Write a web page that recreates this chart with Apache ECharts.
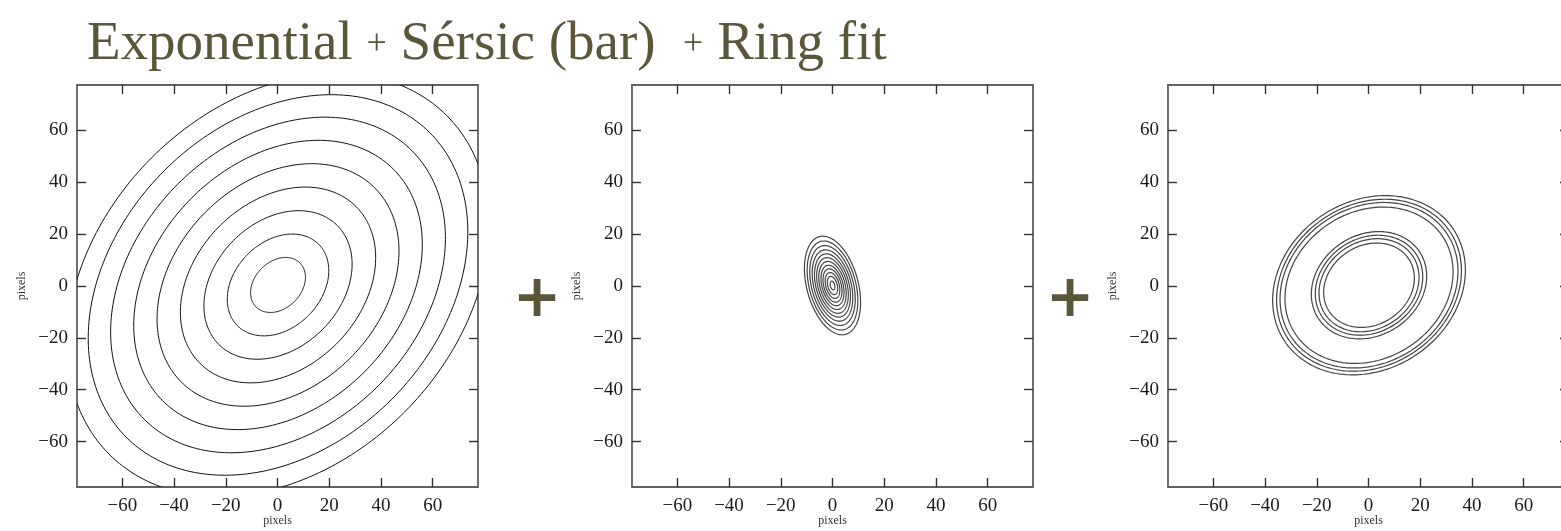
<!DOCTYPE html>
<html>
<head>
<meta charset="utf-8">
<title>Exponential + Sérsic (bar) + Ring fit</title>
<script src="https://cdn.jsdelivr.net/npm/echarts@6/dist/echarts.min.js"></script>
<style>
  html, body { margin: 0; padding: 0; background: #ffffff; }
  #chart { width: 1561px; height: 531px; }
</style>
</head>
<body>
<div id="chart"></div>
<script>
// Axis ticks shared by all three panels (pixels from the galaxy centre)
const tickValues = [-60, -40, -20, 0, 20, 40, 60];
const axisMin = -77.5;
const axisMax = 77.5;

// Exponential disk isophotes: semi-major axes, centre, axis ratio, position angle (deg from +x)
const diskSemiMajor = [12.0, 22.2, 32.4, 42.7, 52.9, 63.1, 73.2, 83.0, 92.3];
const diskCentre = [0.2, 0.4];
const diskAxisRatio = 0.75;
const diskAngle = 45;

// Sérsic bar isophotes
const barSemiMajor = [19.5, 17.6, 15.8, 14.1, 12.5, 11.0, 9.5, 8.0, 6.6, 5.1, 3.6, 1.7];
const barCentre = [0.0, 0.2];
const barAxisRatio = 0.51;
const barAngle = 105;

// Ring isophotes (outer and inner edge groups)
const ringSemiMajor = [39.1, 37.5, 36.1, 34.1, 23.4, 21.8, 20.3, 18.4];
const ringCentre = [0.2, 0.3];
const ringAxisRatio = 0.83;
const ringAngle = 33;

const titleColor = '#59563a';
const serif = '"Liberation Serif", "DejaVu Serif", serif';

function isophotes(semiMajor, centre, q, angle) {
  return semiMajor.map(a => [centre[0], centre[1], a, q, angle]);
}

// Outline of one elliptical isophote, mapped through the panel's axes
function ellipseRenderer(stroke, width) {
  return function (params, api) {
    const cx = api.value(0), cy = api.value(1);
    const a = api.value(2), q = api.value(3);
    const pa = api.value(4) * Math.PI / 180;
    const b = a * q;
    const n = 240;
    const pts = [];
    for (let k = 0; k <= n; k++) {
      const t = 2 * Math.PI * k / n;
      const u = a * Math.cos(t), v = b * Math.sin(t);
      pts.push(api.coord([
        cx + u * Math.cos(pa) - v * Math.sin(pa),
        cy + u * Math.sin(pa) + v * Math.cos(pa)
      ]));
    }
    const cs = params.coordSys;
    return {
      type: 'polyline',
      shape: { points: pts },
      style: { stroke: stroke, fill: null, lineWidth: width },
      clipPath: { type: 'rect', shape: { x: cs.x, y: cs.y, width: cs.width, height: cs.height } }
    };
  };
}

const panels = [
  { left: 77, data: isophotes(diskSemiMajor, diskCentre, diskAxisRatio, diskAngle), stroke: '#111111', width: 1 },
  { left: 632, data: isophotes(barSemiMajor, barCentre, barAxisRatio, barAngle), stroke: '#444444', width: 1.2 },
  { left: 1168, data: isophotes(ringSemiMajor, ringCentre, ringAxisRatio, ringAngle), stroke: '#444444', width: 1.2 }
];

const frameLine = { show: true, onZero: false, lineStyle: { color: '#606060', width: 1.8 } };
const tick = { show: true, inside: true, length: 9, customValues: tickValues, lineStyle: { color: '#333333', width: 1.4 } };
const fmt = v => String(v).replace('-', '\u2212');
const labelStyle = { show: true, customValues: tickValues, formatter: fmt, color: '#1a1a1a', fontFamily: serif, fontSize: 19 };
const nameStyle = { color: '#333333', fontFamily: serif, fontSize: 12 };

const grids = [], xAxes = [], yAxes = [], series = [];
panels.forEach((p, i) => {
  grids.push({ left: p.left, top: 85, width: 401, height: 402, containLabel: false, outerBoundsMode: 'none' });
  const base = { type: 'value', gridIndex: i, min: axisMin, max: axisMax, splitLine: { show: false }, axisLine: frameLine };
  xAxes.push(Object.assign({}, base, {
    position: 'bottom', axisTick: tick, axisLabel: Object.assign({ margin: 10 }, labelStyle),
    name: 'pixels', nameLocation: 'middle', nameGap: 28, nameMoveOverlap: false, nameTextStyle: nameStyle
  }));
  xAxes.push(Object.assign({}, base, { position: 'top', axisTick: tick, axisLabel: { show: false } }));
  yAxes.push(Object.assign({}, base, {
    position: 'left', axisTick: tick, axisLabel: Object.assign({ margin: 9 }, labelStyle),
    name: 'pixels', nameLocation: 'middle', nameGap: 49, nameMoveOverlap: false, nameTextStyle: nameStyle
  }));
  yAxes.push(Object.assign({}, base, { position: 'right', axisTick: tick, axisLabel: { show: false } }));
  series.push({
    type: 'custom', xAxisIndex: 2 * i, yAxisIndex: 2 * i, silent: true,
    renderItem: ellipseRenderer(p.stroke, p.width), data: p.data
  });
});

const chart = echarts.init(document.getElementById('chart'), null, { renderer: 'canvas' });
chart.setOption({
  backgroundColor: '#ffffff',
  animation: false,
  title: {
    text: '{t|Exponential }{p|+}{t| Sérsic (bar)  }{p|+}{t| Ring fit}',
    left: 82, top: 10,
    textStyle: {
      rich: {
        t: { fontFamily: serif, fontSize: 55, fontWeight: 'normal', color: titleColor, lineHeight: 60 },
        p: { fontFamily: serif, fontSize: 36, fontWeight: 'normal', color: titleColor, lineHeight: 60 }
      }
    }
  },
  graphic: [
    { type: 'text', x: 537, y: 301, style: { text: '+', fontFamily: '"DejaVu Sans", sans-serif', fontWeight: 'bold', fontSize: 58, fill: titleColor, align: 'center', verticalAlign: 'middle' } },
    { type: 'text', x: 1070, y: 301, style: { text: '+', fontFamily: '"DejaVu Sans", sans-serif', fontWeight: 'bold', fontSize: 58, fill: titleColor, align: 'center', verticalAlign: 'middle' } }
  ],
  grid: grids,
  xAxis: xAxes,
  yAxis: yAxes,
  series: series
});
</script>
</body>
</html>
